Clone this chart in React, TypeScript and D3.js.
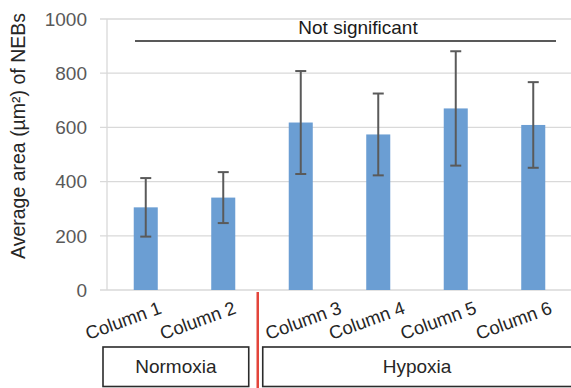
import React from "react";
import * as d3 from "d3";

// Mean NEB area per column with error (SD) in µm²
const categories = ["Column 1", "Column 2", "Column 3", "Column 4", "Column 5", "Column 6"];
const means = [305, 341, 618, 574, 670, 609];
const errors = [108, 94, 190, 151, 211, 158];
const yTicks = [0, 200, 400, 600, 800, 1000];
const groups = [
  { label: "Normoxia", from: "Column 1", to: "Column 2" },
  { label: "Hypoxia", from: "Column 3", to: "Column 6" },
];
const significanceLabel = "Not significant";
const yTitle = "Average area (µm²) of NEBs";

// Layout: horizontal nudge of each rotated category label (px from band centre)
const labelNudge = [17, 14, 42, 28, 22, 20];

const W = 571;
const H = 388;
const FONT = "'Liberation Sans', Arial, Helvetica, sans-serif";

export default function App() {
  const x = d3
    .scaleBand<string>()
    .domain(categories)
    .range([107, 572])
    .paddingInner(0.69)
    .paddingOuter(0.345);
  const y = d3.scaleLinear().domain([0, 1000]).range([290, 19]);
  const bw = x.bandwidth();
  const step = x.step();
  const [x0] = x.range();

  const divider = (x("Column 3") as number) - step * 0.4;

  return (
    <svg
      width={W}
      height={H}
      style={{ position: "fixed", left: 0, top: 0, background: "#fff" }}
      fontFamily={FONT}
    >
      {/* gridlines and ticks */}
      {yTicks.map((t) => (
        <g key={t}>
          <line x1={x0 - 7} x2={W} y1={y(t)} y2={y(t)} stroke="#d9d9d9" strokeWidth={1.3} />
          <text
            x={87}
            y={y(t)}
            dy="0.36em"
            textAnchor="end"
            fontSize={19}
            fill="#595959"
          >
            {t}
          </text>
        </g>
      ))}
      <line x1={x0} x2={x0} y1={y(1000)} y2={y(0)} stroke="#d9d9d9" strokeWidth={1.3} />

      {/* bars */}
      {categories.map((c, i) => (
        <rect
          key={c}
          x={x(c)}
          y={y(means[i])}
          width={bw}
          height={y(0) - y(means[i])}
          fill="#6b9ed3"
        />
      ))}

      {/* error bars */}
      {categories.map((c, i) => {
        const cx = (x(c) as number) + bw / 2;
        const top = y(means[i] + errors[i]);
        const bot = y(means[i] - errors[i]);
        return (
          <g key={c} stroke="#5a5a5a" strokeWidth={2}>
            <line x1={cx} x2={cx} y1={top} y2={bot} />
            <line x1={cx - 5.5} x2={cx + 5.5} y1={top} y2={top} />
            <line x1={cx - 5.5} x2={cx + 5.5} y1={bot} y2={bot} />
          </g>
        );
      })}

      {/* significance bracket */}
      <line x1={135} x2={556} y1={41} y2={41} stroke="#595959" strokeWidth={2} />
      <text x={358} y={34} textAnchor="middle" fontSize={19} fill="#1a1a1a">
        {significanceLabel}
      </text>

      {/* category labels */}
      {categories.map((c, i) => {
        const ax = (x(c) as number) + bw / 2 + labelNudge[i];
        const ay = 313;
        return (
          <text
            key={c}
            x={ax}
            y={ay}
            textAnchor="end"
            fontSize={18.5}
            fill="#262626"
            transform={`rotate(-20 ${ax} ${ay})`}
          >
            {c}
          </text>
        );
      })}

      {/* y axis title */}
      <text
        transform={`translate(25 136) rotate(-90)`}
        textAnchor="middle"
        fontSize={19.5}
        fill="#262626"
      >
        {yTitle}
      </text>

      {/* group boxes */}
      {groups.map((g, i) => {
        const left = i === 0 ? x0 - 4 : divider + 5;
        const right = i === 0 ? divider - 9 : W + 10;
        const cx = i === 0 ? (left + right) / 2 : ((x(g.from) as number) + (x(g.to) as number) + bw) / 2;
        return (
          <g key={g.label}>
            <rect
              x={left}
              y={347}
              width={right - left}
              height={39.5}
              fill="none"
              stroke="#2b2b2b"
              strokeWidth={1.6}
            />
            <text x={cx} y={373} textAnchor="middle" fontSize={19} fill="#262626">
              {g.label}
            </text>
          </g>
        );
      })}

      {/* divider between conditions */}
      <line x1={divider} x2={divider} y1={292} y2={H} stroke="#e3453b" strokeWidth={2.5} />
    </svg>
  );
}
